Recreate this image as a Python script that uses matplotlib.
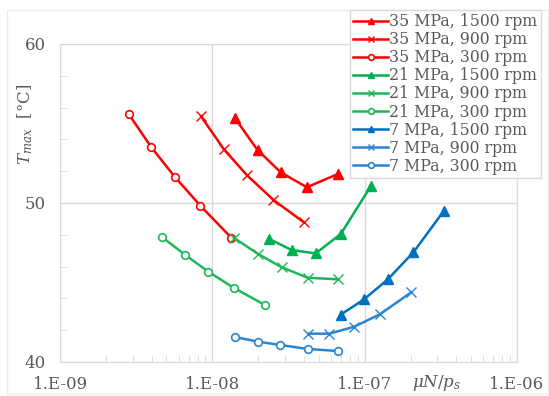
import matplotlib.pyplot as plt
from matplotlib.patches import Rectangle

# data (x = muN/ps, y = Tmax in degC)
red_1500_x = [1.41e-8, 1.98e-8, 2.81e-8, 4.17e-8, 6.66e-8]
red_1500_y = [55.33, 53.33, 51.93, 50.99, 51.82]
red_900_x = [8.43e-9, 1.19e-8, 1.69e-8, 2.52e-8, 3.98e-8]
red_900_y = [55.45, 53.38, 51.74, 50.19, 48.79]
red_300_x = [2.82e-9, 3.98e-9, 5.66e-9, 8.34e-9, 1.33e-8]
red_300_y = [55.6, 53.5, 51.65, 49.83, 47.82]

green_1500_x = [2.36e-8, 3.32e-8, 4.77e-8, 6.97e-8, 1.10e-7]
green_1500_y = [47.74, 47.04, 46.83, 48.05, 51.07]
green_900_x = [1.39e-8, 2.0e-8, 2.85e-8, 4.23e-8, 6.66e-8]
green_900_y = [47.8, 46.79, 45.96, 45.30, 45.2]
green_300_x = [4.70e-9, 6.65e-9, 9.41e-9, 1.39e-8, 2.22e-8]
green_300_y = [47.84, 46.73, 45.68, 44.65, 43.58]

blue_1500_x = [6.97e-8, 9.91e-8, 1.42e-7, 2.09e-7, 3.32e-7]
blue_1500_y = [42.98, 43.94, 45.20, 46.9, 49.52]
blue_900_x = [4.27e-8, 5.86e-8, 8.55e-8, 1.26e-7, 2.02e-7]
blue_900_y = [41.78, 41.78, 42.22, 43.0, 44.38]
blue_300_x = [1.41e-8, 1.99e-8, 2.78e-8, 4.23e-8, 6.66e-8]
blue_300_y = [41.57, 41.28, 41.07, 40.82, 40.69]

series = [
    ("35 MPa, 1500 rpm", red_1500_x, red_1500_y, "#FF0000", "^"),
    ("35 MPa, 900 rpm", red_900_x, red_900_y, "#FF0000", "x"),
    ("35 MPa, 300 rpm", red_300_x, red_300_y, "#FF0000", "o"),
    ("21 MPa, 1500 rpm", green_1500_x, green_1500_y, "#00B050", "^"),
    ("21 MPa, 900 rpm", green_900_x, green_900_y, "#1DB85A", "x"),
    ("21 MPa, 300 rpm", green_300_x, green_300_y, "#1DB85A", "o"),
    ("7 MPa, 1500 rpm", blue_1500_x, blue_1500_y, "#0070C0", "^"),
    ("7 MPa, 900 rpm", blue_900_x, blue_900_y, "#2A84D2", "x"),
    ("7 MPa, 300 rpm", blue_300_x, blue_300_y, "#2A84D2", "o"),
]

plt.rcParams['font.family'] = ['DejaVu Serif']
plt.rcParams['mathtext.fontset'] = 'dejavuserif'
txt = '#595959'
grid = '#D9D9D9'

fig = plt.figure(figsize=(5.49, 3.96), dpi=100)
ax = fig.add_axes([0.1093, 0.0859, 0.8324, 0.803])

for label, xs, ys, col, mk in series:
    if mk == "o":
        ax.plot(xs, ys, color=col, lw=1.8, marker=mk, ms=5.5, mfc='white',
                mec=col, mew=1.2, label=label)
    elif mk == "x":
        ax.plot(xs, ys, color=col, lw=1.8, marker=mk, ms=6.5, mew=1.0, label=label)
    else:
        ax.plot(xs, ys, color=col, lw=1.8, marker=mk, ms=6.5, label=label)

ax.set_xscale('log')
ax.set_xlim(1e-9, 1e-6)
ax.set_ylim(40, 60)
ax.set_xticks([1e-9, 1e-8, 1e-7, 1e-6])
ax.set_xticklabels(["1.E-09", "1.E-08", "1.E-07", "1.E-06"])
ax.set_yticks([40, 50, 60])
ax.set_yticks([42, 44, 46, 48, 52, 54, 56, 58], minor=True)
ax.grid(True, which='major', color=grid, lw=1.0)
ax.set_axisbelow(True)
for s in ax.spines.values():
    s.set_color(grid)
ax.tick_params(which='both', direction='in', color=grid, labelcolor=txt,
               labelsize=12)
ax.tick_params(which='major', length=0, pad=10)
ax.tick_params(which='minor', length=5)
ax.tick_params(axis='x', which='minor', labelbottom=False)

fig.text(0.046, 0.685, r"$T_{max}$  [°C]", rotation=90, color=txt,
         fontsize=12, ha='center', va='center')
fig.text(0.796, 0.033, r"$\mu N/p_s$", color=txt, fontsize=12,
         ha='center', va='center')

leg = fig.legend(loc='upper left', bbox_to_anchor=(0.638, 0.975),
                 frameon=True, fontsize=11.3, labelcolor=txt,
                 handlelength=2.2, handletextpad=0.1, labelspacing=0.07,
                 borderpad=0.2, borderaxespad=0, fancybox=False,
                 framealpha=1, markerscale=0.75)
leg.get_frame().set_edgecolor(grid)
leg.get_frame().set_linewidth(1.0)

fig.patches.append(Rectangle((0.013, 0.005), 0.985, 0.97,
                             transform=fig.transFigure, fill=False,
                             edgecolor='#EBEBEB', lw=1))

plt.savefig("out.png", dpi=100)
